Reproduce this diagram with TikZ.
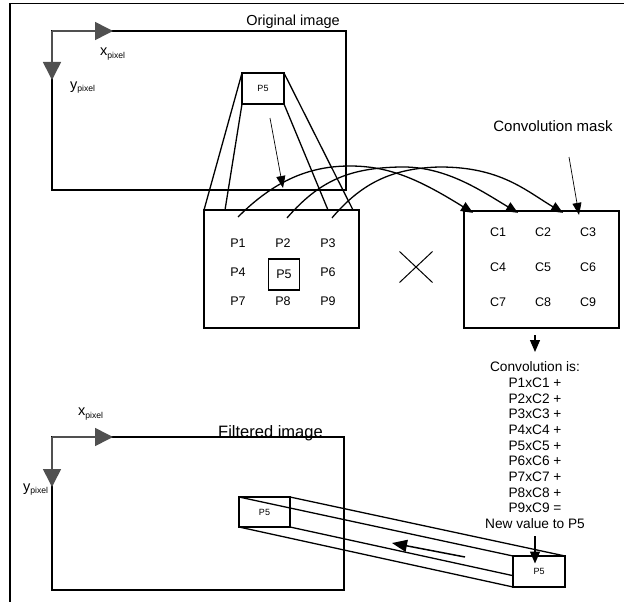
\documentclass[tikz,border=0pt]{standalone}
\usepackage{fontspec}
\setmainfont{Liberation Sans}
\usetikzlibrary{arrows.meta,positioning,calc,backgrounds,shapes.misc}
\definecolor{axisgray}{HTML}{505050}

\begin{document}
\begin{tikzpicture}[
    x=1pt, y=-1pt,
    box/.style={draw, line width=1.3pt, inner sep=0pt, outer sep=0pt},
    cell/.style={inner sep=0pt, font=\fontsize{12.5}{15}\selectfont},
    mini/.style={box, font=\fontsize{9}{11}\selectfont},
    lbl/.style={inner sep=0pt, anchor=base},
    axis/.style={draw=axisgray, line width=1.6pt, -{Triangle[length=18pt,width=18pt]}},
    arr/.style={-{Triangle[length=12pt,width=10pt]}, line width=1.3pt},
    thinarr/.style={-{Triangle[length=12pt,width=9pt]}, line width=0.7pt}
]
\useasboundingbox (0,0) rectangle (624,602);
\draw[line width=1.3pt] (624,3.5) -- (10,3.5) -- (10,602);

% original image
\node[box, minimum width=294pt, minimum height=159pt, anchor=north west] (orig) at (52,31) {};
\node[lbl, font=\fontsize{14.5}{17}\selectfont] (origlabel) at (293,25.5) {Original image};
\coordinate (xtip) at (113,31);
\coordinate (ytip) at (52,80);
\draw[axis] (orig.north west) -- (xtip);
\draw[axis] (orig.north west) -- (ytip);
\node[lbl, anchor=base west, font=\fontsize{14.5}{17}\selectfont] (xlab) at (100,56) {x\raisebox{-2.5pt}{\fontsize{8.6}{10}\selectfont pixel}};
\node[lbl, anchor=base west, font=\fontsize{14.5}{17}\selectfont] (ylab) at (70,89) {y\raisebox{-2.5pt}{\fontsize{8.6}{10}\selectfont pixel}};
\node[mini, minimum width=42pt, minimum height=31pt] (srcP5) at (263,88.5) {P5};

% neighbourhood
\node[box, minimum width=155pt, minimum height=118pt, anchor=north west] (pbox) at (204,210) {};
\node[cell] (P1) at (238,243) {P1};
\node[cell] (P2) at (283,243) {P2};
\node[cell] (P3) at (328,243) {P3};
\node[cell] (P4) at (238,272) {P4};
\node[cell, draw, line width=1.3pt, minimum size=31pt] (P5) at (284,274.5) {P5};
\node[cell] (P6) at (328,272) {P6};
\node[cell] (P7) at (238,301) {P7};
\node[cell] (P8) at (283,301) {P8};
\node[cell] (P9) at (328,301) {P9};

\draw[line width=1.3pt] (srcP5.north west) -- (pbox.north west);
\draw[line width=1.3pt] (srcP5.south west) -- ([xshift=21pt]pbox.north west);
\draw[line width=1.3pt] (srcP5.south east) -- ([xshift=-31pt]pbox.north east);
\draw[line width=1.3pt] (srcP5.north east) -- ([xshift=-6pt]pbox.north east);
\draw[thinarr] ([shift={(7,14)}]srcP5.south) -- ([shift={(20,84)}]srcP5.south);

\node[cross out, draw, line width=1pt, minimum width=32pt, minimum height=30pt, inner sep=0pt] (times) at (416,267) {};

% convolution mask
\node[box, minimum width=155pt, minimum height=117pt, anchor=north west] (cbox) at (464,211) {};
\node[cell] (C1) at (498,232) {C1};
\node[cell] (C2) at (543,232) {C2};
\node[cell] (C3) at (588,232) {C3};
\node[cell] (C4) at (498,267) {C4};
\node[cell] (C5) at (543,267) {C5};
\node[cell] (C6) at (588,267) {C6};
\node[cell] (C7) at (498,302) {C7};
\node[cell] (C8) at (543,302) {C8};
\node[cell] (C9) at (588,302) {C9};
\node[lbl, font=\fontsize{15}{18}\selectfont] (masklabel) at (553,131) {Convolution mask};
\draw[thinarr] ([shift={(16,26)}]masklabel.base) -- ([shift={(-9,-12.5)}]C3.north);

\draw[arr] ([shift={(0,-21.5)}]P1.north) .. controls (275,180) and (310,166) .. (350,166)
    .. controls (390,166) and (420,180) .. ([shift={(-25,-14.5)}]C1.north);
\draw[arr] ([shift={(4,-20.5)}]P2.north) .. controls (320,180) and (350,168) .. (400,167)
    .. controls (445,166) and (480,190) .. ([shift={(-25,-14.5)}]C2.north);
\draw[arr] ([shift={(4,-20.5)}]P3.north) .. controls (360,185) and (390,168) .. (440,167)
    .. controls (500,167) and (525,190) .. ([shift={(-25,-14.5)}]C3.north);

% result
\node[inner sep=0pt, anchor=north, align=center, font=\fontsize{13.7}{15.7}\selectfont] (convtext) at (535,361.5)
    {Convolution is:\\P1xC1 +\\P2xC2 +\\P3xC3 +\\P4xC4 +\\P5xC5 +\\P6xC6 +\\P7xC7 +\\P8xC8 +\\P9xC9 =\\New value to P5};
\draw[arr] ([shift={(-6.5,7)}]cbox.south) -- ([shift={(-6.5,24)}]cbox.south);

% filtered image
\node[box, minimum width=292pt, minimum height=153pt, anchor=north west] (filt) at (52,437) {};
\node[lbl, font=\fontsize{16.5}{19}\selectfont] (filtlabel) at (270.5,437) {Filtered image};
\coordinate (xtip2) at (113,437);
\coordinate (ytip2) at (52,487);
\draw[axis] (filt.north west) -- (xtip2);
\draw[axis] (filt.north west) -- (ytip2);
\node[lbl, anchor=base west, font=\fontsize{14.5}{17}\selectfont] (xlab2) at (78,415.5) {x\raisebox{-2.5pt}{\fontsize{8.6}{10}\selectfont pixel}};
\node[lbl, anchor=base west, font=\fontsize{14.5}{17}\selectfont] (ylab2) at (23,491) {y\raisebox{-2.5pt}{\fontsize{8.6}{10}\selectfont pixel}};

\node[mini, minimum width=51pt, minimum height=30pt] (inP5) at (264.5,512) {P5};
\node[mini, fill=white, minimum width=52pt, minimum height=31pt] (outP5) at (539,571.5) {P5};
\begin{scope}[on background layer]
\draw[line width=1.3pt] (inP5.north west) -- (outP5.north west);
\draw[line width=1.3pt] (inP5.north east) -- (outP5.north east);
\draw[line width=1.3pt] (inP5.south west) -- (outP5.south west);
\draw[line width=1.3pt] (inP5.south east) -- (outP5.south east);
\end{scope}
\draw[-{Triangle[length=15pt,width=12pt]}, line width=1.5pt] ([shift={(-48,-14.5)}]outP5.west) -- ([shift={(-121,-28.5)}]outP5.west);
\draw[arr] ([shift={(0,7.5)}]convtext.south) -- ([shift={(0,7.5)}]convtext.south |- outP5.north);
\end{tikzpicture}
\end{document}
